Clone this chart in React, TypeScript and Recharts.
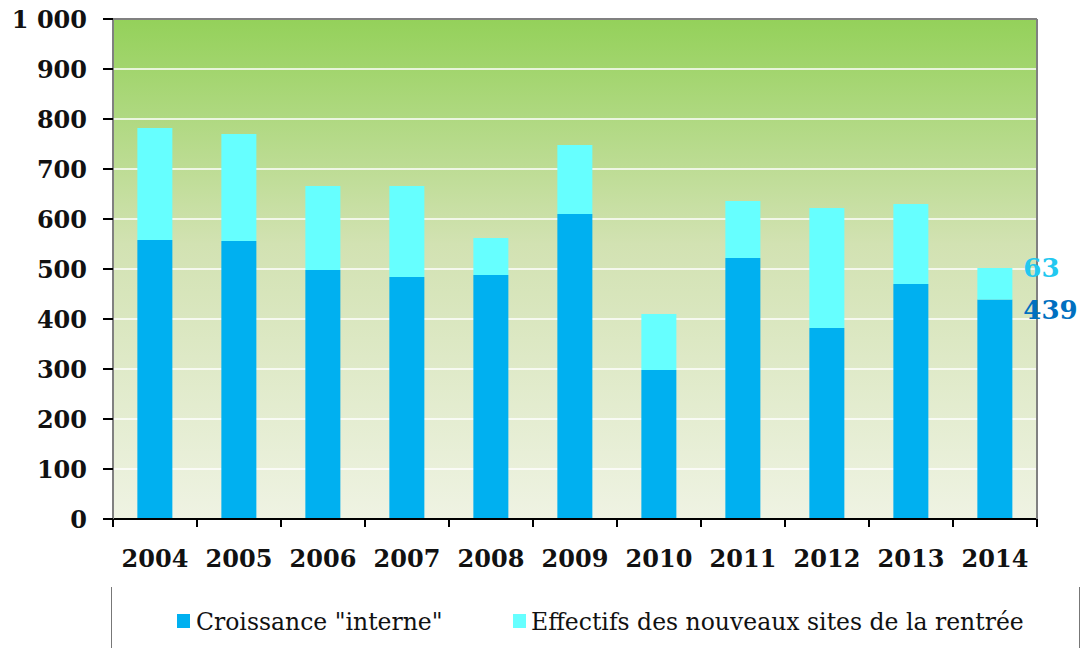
import { BarChart, Bar, XAxis, YAxis, CartesianGrid, ReferenceLine, Legend, LabelList } from "recharts";

const years = ["2004", "2005", "2006", "2007", "2008", "2009", "2010", "2011", "2012", "2013", "2014"];
const interne = [558, 556, 498, 484, 488, 610, 298, 522, 382, 470, 439];
const nouveaux = [224, 214, 168, 182, 74, 138, 112, 114, 240, 160, 63];
const yTicks = [0, 100, 200, 300, 400, 500, 600, 700, 800, 900, 1000];

const data = years.map((year, i) => ({ year, interne: interne[i], nouveaux: nouveaux[i] }));

const BLUE = "#00b0f0";
const CYAN = "#66ffff";
const SERIF = "'DejaVu Serif', Georgia, serif";

function XTick(props: any) {
  const { x, y, payload, index, width, visibleTicksCount } = props;
  const half = width / visibleTicksCount / 2;
  return (
    <g>
      <line x1={x - half} x2={x - half} y1={y} y2={y + 8} stroke="#000" strokeWidth={2} />
      {index === visibleTicksCount - 1 && (
        <line x1={x + half} x2={x + half} y1={y} y2={y + 8} stroke="#000" strokeWidth={2} />
      )}
      <text x={x} y={y + 48} textAnchor="middle" fontFamily={SERIF} fontWeight="bold" fontSize={24} fill="#111">
        {payload.value}
      </text>
    </g>
  );
}

function lastLabel(color: string, dy: number) {
  return (props: any) => {
    const { x, y, width, index, value } = props;
    if (index !== years.length - 1) return null;
    return (
      <text x={x + width + 11} y={y + dy} dominantBaseline="middle" fontFamily={SERIF} fontWeight="bold" fontSize={26} fill={color}>
        {value}
      </text>
    );
  };
}

function LegendBox() {
  const item = { position: "absolute" as const, top: 29, fontFamily: SERIF, fontSize: 23.5, color: "#111", whiteSpace: "nowrap" as const };
  const sq = { position: "absolute" as const, top: 35, width: 13, height: 14 };
  return (
    <div style={{ position: "relative", width: 1081, height: 69 }}>
      <div style={{ position: "absolute", left: 111, top: 8, width: 1, height: 61, background: "#777" }} />
      <div style={{ position: "absolute", left: 1079, top: 8, width: 1, height: 61, background: "#777" }} />
      <div style={{ ...sq, left: 177, background: BLUE }} />
      <div style={{ ...item, left: 196 }}>Croissance "interne"</div>
      <div style={{ ...sq, left: 513, background: CYAN }} />
      <div style={{ ...item, left: 531 }}>Effectifs des nouveaux sites de la rentrée</div>
    </div>
  );
}

export default function App() {
  return (
    <div style={{ position: "absolute", left: 0, top: 0, width: 1081, height: 648, background: "#fff" }}>
      <BarChart width={1081} height={648} data={data} margin={{ top: 19, right: 0, left: 0, bottom: 0 }} barCategoryGap="29%">
        <defs>
          <linearGradient id="bg" x1="0" y1="0" x2="0" y2="1">
            <stop offset="0%" stopColor="#94d15a" />
            <stop offset="45%" stopColor="#d2e2b2" />
            <stop offset="100%" stopColor="#eff3e3" />
          </linearGradient>
        </defs>
        <CartesianGrid vertical={false} stroke="#ffffff" strokeWidth={1.5} fill="url(#bg)" fillOpacity={1} />
        <XAxis
          dataKey="year"
          height={60}
          axisLine={{ stroke: "#000", strokeWidth: 2 }}
          tickLine={false}
          tickSize={0}
          tickMargin={0}
          interval={0}
          tick={<XTick />}
        />
        <YAxis
          width={113}
          domain={[0, 1000]}
          ticks={yTicks}
          interval={0}
          tickFormatter={(v: number) => (v === 1000 ? "1 000" : String(v))}
          axisLine={{ stroke: "#808080", strokeWidth: 2 }}
          tickLine={{ stroke: "#000", strokeWidth: 2 }}
          tickSize={10}
          tickMargin={16}
          tick={{ fontFamily: SERIF, fontWeight: "bold", fontSize: 24, fill: "#111" }}
        />
        <YAxis
          yAxisId="right"
          orientation="right"
          width={44}
          domain={[0, 1000]}
          tick={false}
          tickLine={false}
          axisLine={{ stroke: "#808080", strokeWidth: 2 }}
        />
        <ReferenceLine y={1000} stroke="#808080" strokeWidth={2} />
        <Legend verticalAlign="bottom" height={69} wrapperStyle={{ left: 0, width: 1081 }} content={<LegendBox />} />
        <Bar dataKey="interne" stackId="a" fill={BLUE} isAnimationActive={false}>
          <LabelList dataKey="interne" content={lastLabel("#0070c0", 12)} />
        </Bar>
        <Bar dataKey="nouveaux" stackId="a" fill={CYAN} isAnimationActive={false}>
          <LabelList dataKey="nouveaux" content={lastLabel("#22c8f0", 2)} />
        </Bar>
      </BarChart>
    </div>
  );
}
